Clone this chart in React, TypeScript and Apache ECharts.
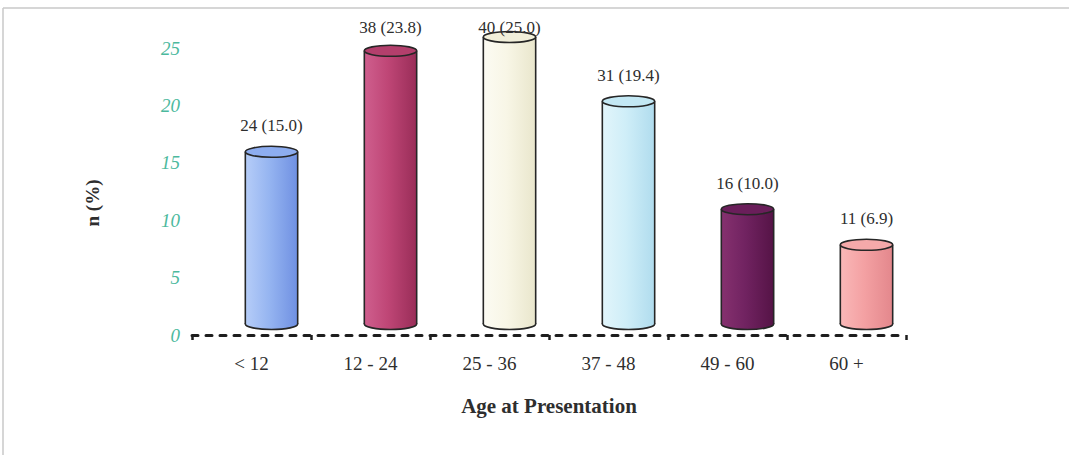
import React, { useEffect, useRef } from "react";
import * as echarts from "echarts";

// Age groups (months) and the counts / percentages of patients in each
const ageGroups = ["< 12", "12 - 24", "25 - 36", "37 - 48", "49 - 60", "60 +"];
const counts = [24, 38, 40, 31, 16, 11];
const percents = [15.0, 23.8, 25.0, 19.4, 10.0, 6.9];
const yTicks = [0, 5, 10, 15, 20, 25];

// Cylinder fills: light edge, middle, shaded edge, top cap
const palette = [
  { light: "#b6cdf8", mid: "#96b5f1", dark: "#6f90e2", cap: "#8dadf0" },
  { light: "#cf5f8e", mid: "#bf4676", dark: "#992d58", cap: "#b33f6c" },
  { light: "#fcfbf3", mid: "#f8f6e6", dark: "#e9e6cc", cap: "#f1efda" },
  { light: "#e2f5fb", mid: "#cfeef8", dark: "#b0dcee", cap: "#c3e8f4" },
  { light: "#86316f", mid: "#712361", dark: "#551346", cap: "#6a1e5a" },
  { light: "#f9b8b8", mid: "#f4a1a3", dark: "#e3878c", cap: "#f5a9aa" },
];

const SERIF = "'Liberation Serif', 'DejaVu Serif', serif";
const INK = "#2e2e2e";

function renderCylinder(params: any, api: any) {
  const i = api.value(0);
  const v = api.value(1);
  const n = api.value(2);
  const top = api.coord([i, v]);
  const base = api.coord([i, 0]);
  const band = api.size([1, 0])[0];
  const rx = band * 0.22;
  const ry = 5.5;
  // perspective offset of the drawn cylinders
  const cx = top[0] + 20;
  const yTop = top[1] - 11;
  const yBot = base[1] - 11;
  const c = palette[i];
  const body = new echarts.graphic.LinearGradient(0, 0, 1, 0, [
    { offset: 0, color: c.light },
    { offset: 0.45, color: c.mid },
    { offset: 1, color: c.dark },
  ]);
  const stroke = { stroke: "#262626", lineWidth: 1.6 };
  const labelY = Math.max(27, yTop - 26);
  return {
    type: "group",
    children: [
      {
        type: "ellipse",
        shape: { cx, cy: yBot, rx, ry },
        style: { fill: body, ...stroke },
      },
      {
        type: "rect",
        shape: { x: cx - rx, y: yTop, width: rx * 2, height: yBot - yTop },
        style: { fill: body },
      },
      {
        type: "line",
        shape: { x1: cx - rx, y1: yTop, x2: cx - rx, y2: yBot },
        style: stroke,
      },
      {
        type: "line",
        shape: { x1: cx + rx, y1: yTop, x2: cx + rx, y2: yBot },
        style: stroke,
      },
      {
        type: "ellipse",
        shape: { cx, cy: yTop, rx, ry },
        style: { fill: c.cap, ...stroke },
      },
      {
        type: "text",
        x: cx,
        y: labelY,
        style: {
          text: `${n} (${Number(v).toFixed(1)})`,
          fill: INK,
          font: `17px ${SERIF}`,
          align: "center",
          verticalAlign: "middle",
        },
      },
    ],
  };
}

export default function App() {
  const ref = useRef<HTMLDivElement>(null);

  useEffect(() => {
    if (!ref.current) return;
    const chart = echarts.init(ref.current, undefined, { renderer: "svg" });
    chart.setOption({
      animation: false,
      backgroundColor: "#ffffff",
      grid: { left: 192, right: 163, top: 48, bottom: 120 },
      xAxis: {
        type: "category",
        data: ageGroups,
        boundaryGap: true,
        name: "Age at Presentation",
        nameLocation: "middle",
        nameGap: 60,
        nameTextStyle: {
          fontFamily: SERIF,
          fontSize: 21,
          fontWeight: "bold",
          color: INK,
          verticalAlign: "top",
        },
        axisLine: {
          show: true,
          lineStyle: { color: "#1e1e1e", width: 3, type: [6, 8] },
        },
        axisTick: {
          show: true,
          alignWithLabel: false,
          length: 5,
          lineStyle: { color: "#1e1e1e", width: 2.5 },
        },
        axisLabel: {
          margin: 19,
          fontFamily: SERIF,
          fontSize: 19,
          color: INK,
        },
      },
      yAxis: {
        type: "value",
        min: yTicks[0],
        max: yTicks[yTicks.length - 1],
        interval: 5,
        axisLine: { show: false },
        axisTick: { show: false },
        splitLine: { show: false },
        axisLabel: {
          margin: 12,
          fontFamily: SERIF,
          fontStyle: "italic",
          fontSize: 19,
          color: "#4cb99d",
        },
      },
      graphic: [
        {
          type: "line",
          shape: { x1: 3, y1: 8, x2: 1069, y2: 8 },
          style: { stroke: "#c9c9c9", lineWidth: 1.5 },
        },
        {
          type: "line",
          shape: { x1: 3, y1: 8, x2: 3, y2: 455 },
          style: { stroke: "#c9c9c9", lineWidth: 1.5 },
        },
        {
          type: "text",
          x: 92,
          y: 203,
          rotation: Math.PI / 2,
          style: {
            text: "n (%)",
            font: `bold 19px ${SERIF}`,
            fill: INK,
            align: "center",
            verticalAlign: "middle",
          },
        },
      ],
      series: [
        {
          type: "custom",
          renderItem: renderCylinder,
          encode: { x: 0, y: 1 },
          clip: false,
          data: ageGroups.map((_, i) => [i, percents[i], counts[i]]),
        },
      ],
    });
    return () => chart.dispose();
  }, []);

  return (
    <div
      ref={ref}
      style={{ position: "fixed", left: 0, top: 0, width: 1069, height: 455 }}
    />
  );
}
